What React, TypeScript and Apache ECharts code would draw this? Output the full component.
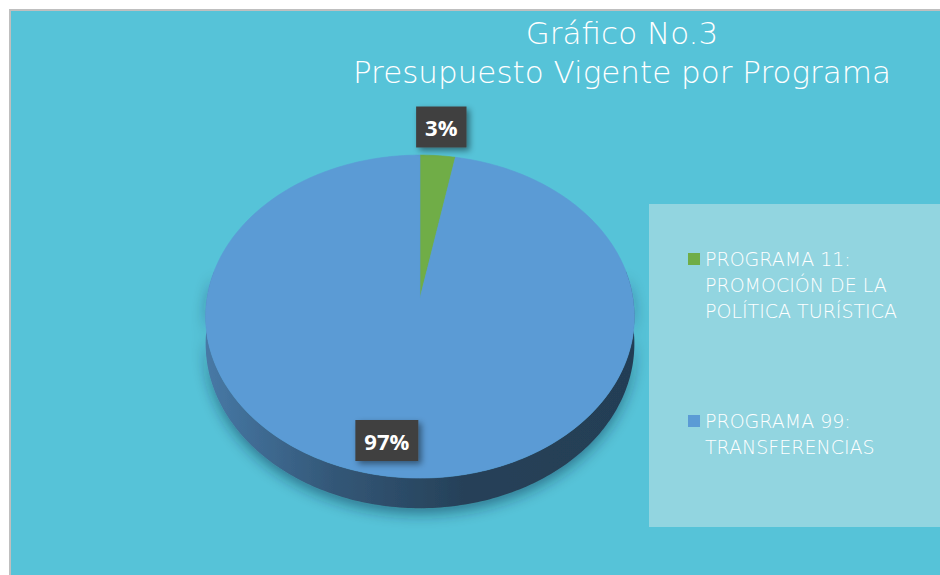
import React, { useEffect, useRef } from "react";
import * as echarts from "echarts";

// ---------- data ----------
const titleLines = ["Gráfico No.3", "Presupuesto Vigente por Programa"];
const programs = [
  "PROGRAMA 11:\nPROMOCIÓN DE LA\nPOLÍTICA TURÍSTICA",
  "PROGRAMA 99:\nTRANSFERENCIAS",
];
const shares = [3, 97];
const sliceColors = ["#70AD47", "#5B9BD5"];
// label placement: angle (deg, clockwise from 12 o'clock) and radius factor
const labelAngles = [5.4, 190];
const labelRadii = [1.24, 0.82];

// ---------- 3D pie geometry ----------
const CX = 420;
const CY = 298;
const RX = 213;
const RY = 161.5;
const PERSP = 0.115;
const DEPTH = 27;
const LH = 26;

function darken(hex: string, f: number): string {
  const c = echarts.color.parse(hex) as number[];
  const r = Math.round(c[0] * f);
  const g = Math.round(c[1] * f);
  const b = Math.round(c[2] * f);
  return `rgb(${r},${g},${b})`;
}

function project(thetaDeg: number, r: number, drop: number): number[] {
  const t = (thetaDeg * Math.PI) / 180;
  const u = r * Math.sin(t);
  const v = -r * Math.cos(t);
  const s = 1 + PERSP * v;
  return [CX + RX * u * s, CY + RY * v * s + drop * s];
}

const total = shares.reduce((a, b) => a + b, 0);

function renderSlice(params: any, api: any) {
  const i = params.seriesIndex;
  const value = api.value(0);
  const before = shares.slice(0, i).reduce((a, b) => a + b, 0);
  const start = (before / total) * 360;
  const end = start + (value / total) * 360;
  const color = sliceColors[i];
  const children: any[] = [];

  // side (front-facing part only)
  const s0 = Math.max(start, 80);
  const s1 = Math.min(end, 280);
  if (s1 > s0) {
    const n = Math.ceil(s1 - s0);
    const topRim: number[][] = [];
    const botRim: number[][] = [];
    for (let k = 0; k <= n; k++) {
      const th = s0 + ((s1 - s0) * k) / n;
      topRim.push(project(th, 1, 0));
      botRim.push(project(th, 1, DEPTH));
    }
    children.push({
      type: "polygon",
      z2: 1,
      shape: { points: topRim.concat(botRim.reverse()) },
      style: {
        fill: new echarts.graphic.LinearGradient(0, 0, 1, 0, [
          { offset: 0, color: darken(color, 0.78) },
          { offset: 0.3, color: darken(color, 0.56) },
          { offset: 0.6, color: darken(color, 0.42) },
          { offset: 1, color: darken(color, 0.4) },
        ]),
        shadowBlur: 14,
        shadowColor: "rgba(0,40,60,0.45)",
        shadowOffsetY: 6,
      },
    });
  }

  // top face
  const n = Math.max(2, Math.ceil(end - start));
  const pts: number[][] = [[CX, CY]];
  for (let k = 0; k <= n; k++) {
    pts.push(project(start + ((end - start) * k) / n, 1, 0));
  }
  children.push({
    type: "polygon",
    z2: 10,
    shape: { points: pts },
    style: { fill: color, stroke: color, lineWidth: 0.6 },
  });

  // data label
  const lp = project(labelAngles[i], labelRadii[i], 0);
  children.push({
    type: "text",
    z2: 30,
    style: {
      text: Math.round((value / total) * 100) + "%",
      x: lp[0],
      y: lp[1],
      align: "center",
      verticalAlign: "middle",
      fill: "#ffffff",
      font: 'bold 22px "Open Sans"',
      backgroundColor: "#404040",
      padding: [9.5, 9, 9.5, 9],
      shadowBlur: 6,
      shadowColor: "rgba(0,0,0,0.45)",
      shadowOffsetX: 3,
      shadowOffsetY: 3,
    },
  });

  return { type: "group", children };
}

export default function App() {
  const ref = useRef<HTMLDivElement>(null);

  useEffect(() => {
    if (!ref.current) return;
    const chart = echarts.init(ref.current, undefined, { renderer: "svg" });
    chart.setOption({
      animation: false,
      backgroundColor: "#ffffff",
      graphic: [
        {
          type: "rect",
          z: -10,
          shape: { x: 10, y: 10, width: 940, height: 575 },
          style: { fill: "#56C3D8", stroke: "#BFBFBF", lineWidth: 2 },
        },
        {
          type: "rect",
          z: -5,
          shape: { x: 649, y: 204, width: 291, height: 323 },
          style: { fill: "#92D5E0" },
        },
        {
          type: "text",
          z: 10,
          style: {
            text: titleLines.join("\n"),
            x: 622,
            y: 13,
            align: "center",
            verticalAlign: "top",
            lineHeight: 39,
            fill: "#ffffff",
            font: '200 31px "DejaVu Sans"',
          },
        },
      ],
      legend: {
        orient: "vertical",
        left: 688,
        top: 194,
        padding: 0,
        itemGap: 58,
        itemWidth: 12,
        itemHeight: 12,
        icon: "rect",
        selectedMode: false,
        // pad with leading blank lines so the first line sits level with the marker
        formatter: (name: string) =>
          "\n".repeat(name.split("\n").length - 1) + name,
        textStyle: {
          color: "#FFFFFF",
          fontFamily: "DejaVu Sans",
          fontWeight: 200,
          fontSize: 19,
          lineHeight: LH,
        },
        data: programs,
      },
      series: shares.map((v, i) => ({
        type: "custom",
        name: programs[i],
        coordinateSystem: "none",
        silent: true,
        itemStyle: { color: sliceColors[i] },
        data: [[v]],
        renderItem: renderSlice,
      })),
    });
    return () => chart.dispose();
  }, []);

  return (
    <div
      ref={ref}
      style={{ position: "fixed", left: 0, top: 0, width: 940, height: 575 }}
    />
  );
}
